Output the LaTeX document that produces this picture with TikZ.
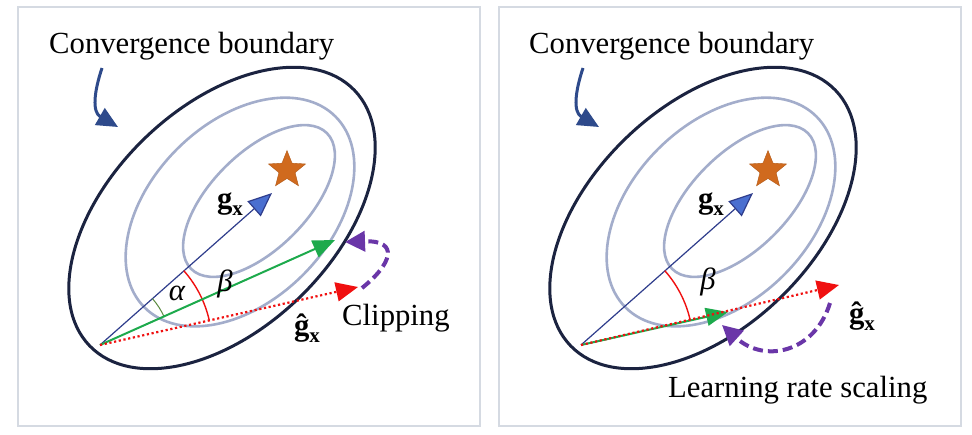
\documentclass[tikz,border=0pt]{standalone}
\usepackage{amsmath}
\usepackage{fontspec}
\setmainfont{Liberation Serif}
\usetikzlibrary{arrows.meta,shapes.geometric}
\definecolor{framegray}{HTML}{D5DAE2}
\definecolor{navyline}{HTML}{1B2340}
\definecolor{contour}{HTML}{A3ADCB}
\definecolor{cbarrow}{HTML}{2E4A8B}
\definecolor{gline}{HTML}{2F3D8C}
\definecolor{ghead}{HTML}{4A6FD0}
\definecolor{greenv}{HTML}{1DAA4C}
\definecolor{redv}{HTML}{F01010}
\definecolor{purplev}{HTML}{6A36A8}
\definecolor{starorange}{HTML}{D06A1E}
\definecolor{alphagreen}{HTML}{5A8A40}
\tikzset{
  lbl/.style={font=\fontsize{30.7}{36}\selectfont, inner sep=0pt, text=black},
  panelframe/.style={draw=framegray, line width=1.5pt},
  contourline/.style={draw=contour, line width=2.6pt},
  boundaryline/.style={draw=navyline, line width=3pt},
  cbconn/.style={draw=cbarrow, line width=3pt, -{Triangle[length=21pt,width=19pt,fill=cbarrow]}},
  gvec/.style={draw=gline, line width=1.2pt, -{Triangle[length=24pt,width=20pt,fill=ghead]}},
  greenvec/.style={draw=greenv, line width=2pt, -{Triangle[length=22pt,width=18pt,fill=greenv]}},
  redvec/.style={draw=redv, line width=2.2pt, dash pattern=on 2.2pt off 2.6pt, -{Triangle[length=22pt,width=19pt,fill=redv]}},
  purplevec/.style={draw=purplev, line width=4pt, dash pattern=on 10pt off 5pt, -{Triangle[length=20pt,width=20pt,fill=purplev]}},
  optstar/.style={star, star points=5, star point ratio=2.3, minimum size=39pt, inner sep=0pt, fill=starorange, draw=starorange!85!black, line width=0.4pt},
}
\newcommand\gxlabel{\textbf{g}\raisebox{-0.22em}{\fontsize{21}{24}\selectfont\textbf{x}}}
\newcommand\ghxlabel{\textbf{ĝ}\raisebox{-0.22em}{\fontsize{21}{24}\selectfont\textbf{x}}}
\newcommand\basinpanel{%
  \draw[panelframe] (18,-7) rectangle (480,-426);
  \draw[contourline, rotate around={45:(259,-201)}] (259,-201) ellipse [x radius=96, y radius=48];
  \draw[contourline, rotate around={45:(240,-212)}] (240,-212) ellipse [x radius=135, y radius=89];
  \draw[boundaryline, rotate around={44:(222,-218)}] (222,-218) ellipse [x radius=184, y radius=111];
  \coordinate (cbs) at (102,-68);
  \coordinate (cbe) at (118,-127);
  \draw[cbconn] (cbs) .. controls (94,-92) and (92,-112) .. (cbe);
  \node[optstar] (opt) at (287,-170) {};
  \coordinate (O) at (100,-345);
  \coordinate (gt) at (272,-193);
  \draw[gvec] (O) -- (gt);
  \node[lbl] (glab) at (230,-204) {\gxlabel};
}
\begin{document}
\begin{tikzpicture}[x=1pt,y=1pt]
\useasboundingbox (0,0) rectangle (972,-434);
\fill[white] (0,0) rectangle (972,-434);
% ---------- left panel ----------
\begin{scope}
  \basinpanel
  \node[lbl, anchor=base west] (cbL) at (49,-53) {Convergence boundary};
  \coordinate (grt) at (335,-240);
  \coordinate (rdt) at (358,-287);
  \draw[alphagreen, line width=1pt] ([shift={(41.5:70)}]O) arc[start angle=41.5, end angle=24.1, radius=70];
  \draw[redv, line width=1.4pt] ([shift={(41.5:112)}]O) arc[start angle=41.5, end angle=12.7, radius=112];
  \draw[greenvec] (O) -- (grt);
  \draw[redvec] (O) -- (rdt);
  \coordinate (ps) at (362,-288);
  \coordinate (pe) at (345,-242);
  \draw[purplevec] (ps) .. controls (392,-264) and (400,-240) .. (pe);
  \node[lbl] (al) at (177,-293) {\itshape α};
  \node[lbl] (be) at (225,-284) {\itshape β};
  \node[lbl] (ghl) at (307,-328) {\ghxlabel};
  \node[lbl, anchor=base west] (clip) at (342,-325) {Clipping};
\end{scope}
% ---------- right panel ----------
\begin{scope}[xshift=481pt]
  \basinpanel
  \node[lbl, anchor=base west] (cbR) at (48,-53) {Convergence boundary};
  \coordinate (grt2) at (247,-312);
  \coordinate (rdt2) at (358,-285);
  \draw[redv, line width=1.4pt] ([shift={(41.5:112)}]O) arc[start angle=41.5, end angle=12.7, radius=112];
  \draw[greenvec] (O) -- (grt2);
  \draw[redvec] (O) -- (rdt2);
  \coordinate (ps2) at (349,-303);
  \coordinate (pe2) at (241,-325);
  \draw[purplevec] (ps2) .. controls (334,-352) and (284,-364) .. (pe2);
  \node[lbl] (be2) at (227,-282) {\itshape β};
  \node[lbl] (ghl2) at (381,-316) {\ghxlabel};
  \node[lbl, anchor=base west] (lrs) at (187,-397) {Learning rate scaling};
\end{scope}
\end{tikzpicture}
\end{document}
